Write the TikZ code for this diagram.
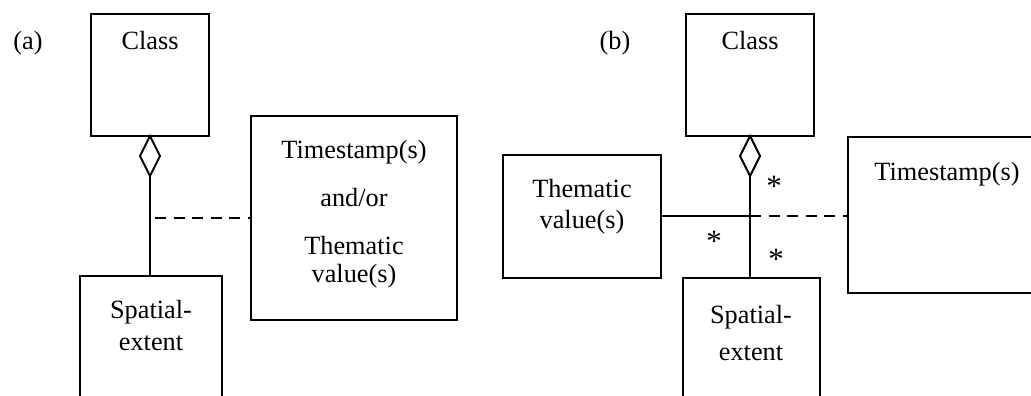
\documentclass[tikz,border=0pt]{standalone}
\usepackage{fontspec}
\setmainfont{Liberation Serif}
\usetikzlibrary{shapes.geometric}
\begin{document}
\begin{tikzpicture}[x=1pt,y=-1pt,
  every node/.style={font=\fontsize{26.3}{30}\selectfont},
  box/.style={draw,line width=2pt,rectangle,inner sep=0pt,outer sep=0pt},
  agg/.style={draw,line width=2pt,diamond,fill=white,inner sep=0pt,outer sep=0pt,
              minimum width=20pt,minimum height=40pt,anchor=north},
  link/.style={line width=2pt},
  dep/.style={line width=2.2pt,dash pattern=on 11pt off 7.5pt},
  txt/.style={anchor=base,inner sep=0pt},
  mult/.style={anchor=base,inner sep=0pt,font=\fontsize{31}{34}\selectfont}]
\useasboundingbox (0,0) rectangle (1031,396);
\clip (0,0) rectangle (1031,396);

% ---------- (a) ----------
\node[txt] (la) at (28,50) {(a)};
\node[box,minimum width=118pt,minimum height=122pt] (cA) at (150,75) {};
\node[box,minimum width=142pt,minimum height=200pt] (sA) at (151,376) {};
\node[box,minimum width=206pt,minimum height=204pt] (tA) at (354,218) {};
\node[agg] (dA) at (cA.south) {};
\node[txt] (cAt) at (150,50) {Class};
\node[txt] (sAt1) at (151,318) {Spatial-};
\node[txt] (sAt2) at (151,350) {extent};
\node[txt] (tAt1) at (354,158) {Timestamp(s)};
\node[txt] (tAt2) at (354,206) {and/or};
\node[txt] (tAt3) at (354,254) {Thematic};
\node[txt] (tAt4) at (354,282) {value(s)};
\draw[link] (dA.south) -- (dA.south |- sA.north);
\coordinate (jA) at (dA.south |- tA.west);
\draw[dep] ([xshift=5pt]jA) -- (tA.west);

% ---------- (b) ----------
\node[txt] (lb) at (615,50) {(b)};
\node[box,minimum width=128pt,minimum height=122pt] (cB) at (750,75) {};
\node[box,minimum width=158pt,minimum height=123pt] (thB) at (582,216) {};
\node[box,minimum width=200pt,minimum height=156pt] (tB) at (948,215) {};
\node[box,minimum width=137pt,minimum height=200pt] (sB) at (751.5,378) {};
\node[agg] (dB) at (cB.south) {};
\node[txt] (cBt) at (750,50) {Class};
\node[txt] (thBt1) at (582,197) {Thematic};
\node[txt] (thBt2) at (582,228) {value(s)};
\node[txt] (tBt) at (947,180) {Timestamp(s)};
\node[txt] (sBt1) at (751,323) {Spatial-};
\node[txt] (sBt2) at (751,360) {extent};
\draw[link] (dB.south) -- (dB.south |- sB.north);
\coordinate (jB) at (dB.south |- thB.east);
\draw[link] (thB.east) -- (jB);
\draw[dep] (jB) -- (jB -| tB.west);
\node[mult] (m1) at (774,196) {*};
\node[mult] (m2) at (714,251) {*};
\node[mult] (m3) at (776,269) {*};
\end{tikzpicture}
\end{document}
